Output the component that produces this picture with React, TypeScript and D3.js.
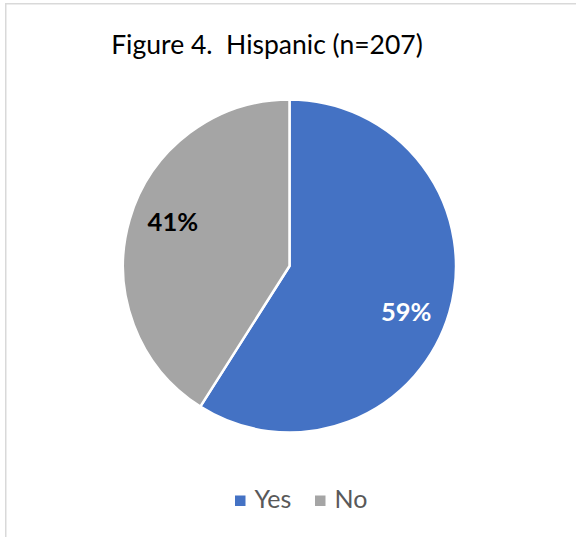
import React from "react";
import * as d3 from "d3";

const categories = ["Yes", "No"];
const values = [59, 41];
const colors = ["#4472C4", "#A5A5A5"];
const labelColors = ["#FFFFFF", "#000000"];
const title = "Figure 4.  Hispanic (n=207)";

const W = 576;
const H = 537;
const cx = 289.5;
const cy = 266;
const R = 166.5;

export default function App() {
  const pie = d3.pie<number>().sort(null).value((d) => d);
  const arcs = pie(values);
  const arcGen = d3.arc<d3.PieArcDatum<number>>().innerRadius(0).outerRadius(R);
  const labelArc = d3.arc<d3.PieArcDatum<number>>().innerRadius(R * 0.76).outerRadius(R * 0.76);

  const legendX = [235, 315];
  return (
    <svg
      width={W}
      height={H}
      style={{ position: "absolute", left: 0, top: 0, background: "#fff" }}
      fontFamily="Lato, 'Open Sans', sans-serif"
    >
      <rect x={0} y={0} width={W} height={H} fill="#fff" />
      <path d={`M5.75,${H} L5.75,3.75 L${W},3.75`} fill="none" stroke="#d9d9d9" strokeWidth={1.5} />
      <text x={267} y={54} textAnchor="middle" fontSize={26.5} fill="#000" style={{ whiteSpace: "pre" }}>
        {title}
      </text>
      <g transform={`translate(${cx},${cy})`}>
        {arcs.map((a, i) => (
          <path key={i} d={arcGen(a) || ""} fill={colors[i]} stroke="#fff" strokeWidth={2.5} strokeLinejoin="round" />
        ))}
        {arcs.map((a, i) => {
          const [x, y] = labelArc.centroid(a);
          return (
            <text
              key={"l" + i}
              x={x * 0.96}
              y={y * 1.27}
              textAnchor="middle"
              dominantBaseline="central"
              fontSize={25.5}
              fontWeight="bold"
              fill={labelColors[i]}
            >
              {values[i]}%
            </text>
          );
        })}
      </g>
      {categories.map((c, i) => (
        <g key={c}>
          <rect x={legendX[i]} y={495.5} width={10.5} height={10.5} fill={colors[i]} />
          <text x={legendX[i] + 19.5} y={508.3} fontSize={25} fill="#595959">
            {c}
          </text>
        </g>
      ))}
    </svg>
  );
}
